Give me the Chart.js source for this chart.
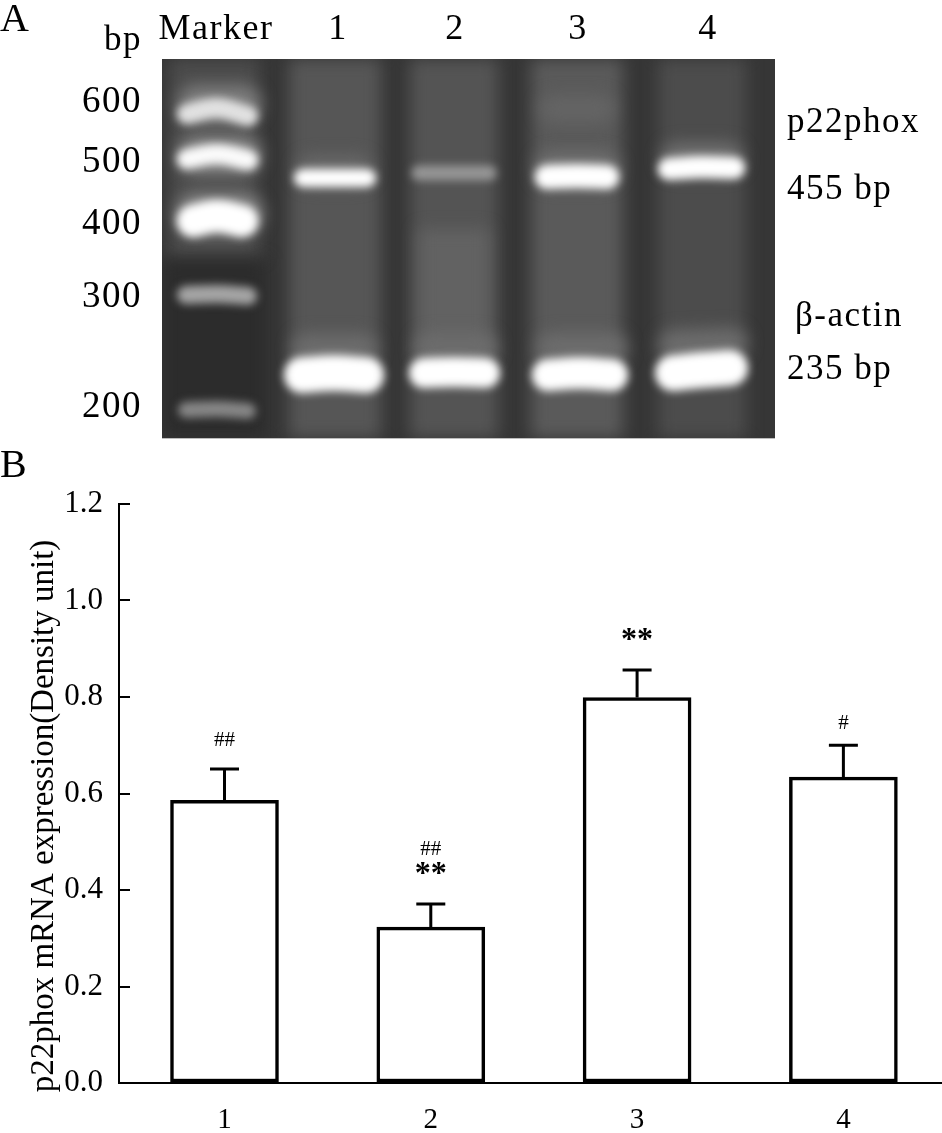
<!DOCTYPE html>
<html>
<head>
<meta charset="utf-8">
<title>p22phox mRNA expression</title>
<script src="https://cdn.jsdelivr.net/npm/chart.js@4"></script>
<style>
  html, body { margin: 0; background: #fff; overflow: hidden; }
  #wrap { position: relative; width: 942px; height: 1133px; overflow: hidden; }
  #gel-box { position: absolute; left: 0; top: 0; width: 942px; height: 450px; }
  #bars-box { position: absolute; left: 0; top: 450px; width: 942px; height: 683px; }
  canvas { display: block; }
</style>
</head>
<body>
<div id="wrap">
  <div id="gel-box"><canvas id="gel" width="942" height="450"></canvas></div>
  <div id="bars-box"><canvas id="bars" width="942" height="683"></canvas></div>
</div>
<script>
// --- Panel B values ---
const groups = ["1", "2", "3", "4"];
const density = [0.586, 0.323, 0.799, 0.634];
const errorTop = [0.651, 0.371, 0.856, 0.700];
const hashMarks = ["##", "##", "", "#"];
const hashLevel = [0.709, 0.485, 0, 0.746];
const starMarks = ["", "**", "**", ""];
const starLevel = [0, 0.432, 0.917, 0];
const yTicks = [0, 0.2, 0.4, 0.6, 0.8, 1.0, 1.2];
const yTitle = "p22phox mRNA expression(Density unit)";

// --- Panel A values, in gel distance units ---
const laneNames = ["Marker", "1", "2", "3", "4"];
const laneLabelX = [54, 176, 293, 416, 546];
const bpLabels = ["600", "500", "400", "300", "200"];
const bpRows = [43, 103, 165, 238, 348];

const stripX = [52, 52, 173, 292, 292, 415, 540];
const stripFrom = [0, 200, 0, 0, 170, 0, 0];
const stripTo = [200, 379, 379, 379, 300, 379, 379];
const stripWide = [90, 105, 92, 88, 70, 92, 88];
const stripGrey = [76, 44, 86, 84, 98, 90, 76];

const haloX = [[145, 200], [268, 320], [390, 450], [512, 570], [392, 438], [150, 195], [390, 440], [515, 565], [35, 80], [35, 80], [35, 80]];
const haloY = [[290, 290], [289, 289], [289, 289], [286, 284], [50, 50], [112, 112], [110, 110], [100, 100], [45, 45], [96, 96], [155, 155]];
const haloWide = [30, 30, 30, 30, 28, 30, 34, 32, 38, 38, 42];
const haloGrey = [108, 108, 108, 108, 100, 105, 112, 112, 125, 135, 135];

const bandX = [
  [25, 55, 86], [25, 55, 86], [31, 55, 80], [24, 55, 86], [24, 55, 86],
  [141, 173, 205], [257, 292, 327], [385, 415, 445], [507, 540, 572],
  [140, 172, 204], [262, 292, 323], [386, 418, 450], [511, 540, 568]
];
const bandY = [
  [55, 49, 57], [100, 95, 101], [162, 157, 162], [236, 235, 237], [351, 350, 352],
  [119, 119, 119], [114, 114, 114], [118, 117, 118], [110, 108, 109],
  [316, 314, 316], [314, 313, 314], [316, 314, 316], [314, 311, 309]
];
const bandWide = [20, 20, 32, 18, 16, 18, 15, 24, 22, 36, 30, 32, 36];
const bandGrey = [225, 250, 255, 165, 135, 255, 150, 255, 255, 255, 255, 255, 255];

const gelNotes = ["p22phox", "455 bp", "β-actin", "235 bp", "bp"];
const gelNoteX = [625, 625, 633, 625, -58];
const gelNoteRow = [64, 131, 258, 311, -18];

const serif = "'Liberation Serif', serif";

function grey(v) { return `rgb(${v},${v},${v})`; }

// Layout is fixed by hand, so drop the room Chart.js keeps for edge labels
function noEdgePadding(s) {
  s.paddingTop = s.paddingBottom = s.paddingLeft = s.paddingRight = 0;
}

// --- Gel datasets ---
function lineSet(xs, ys, wide, shade, blur, cap) {
  return {
    data: xs.map((x, i) => ({ x, y: ys[i] })),
    borderColor: grey(shade),
    borderWidth: wide,
    borderCapStyle: cap,
    tension: 0.4,
    pointRadius: 0,
    clip: 0,
    blur
  };
}

const gelSets = [];
stripX.forEach((x, i) => {
  gelSets.push(lineSet([x, x], [stripFrom[i], stripTo[i]], stripWide[i], stripGrey[i], 8, "butt"));
});
haloX.forEach((xs, i) => {
  gelSets.push(lineSet(xs, haloY[i], haloWide[i], haloGrey[i], 8, "round"));
});
bandX.forEach((xs, i) => {
  gelSets.push(lineSet(xs, bandY[i], bandWide[i], bandGrey[i], 4, "round"));
});
// Chart.js paints the first dataset last
gelSets.reverse();

const gelPlugin = {
  id: "gelLook",
  beforeDraw(chart) {
    chart.ctx.letterSpacing = "1.5px";
  },
  beforeDatasetsDraw(chart) {
    const { ctx, chartArea: a } = chart;
    ctx.fillStyle = "#363636";
    ctx.fillRect(a.left, a.top, a.right - a.left, a.bottom - a.top);
    ctx.fillStyle = "#bdbdbd";
    ctx.fillRect(a.left, a.bottom, a.right - a.left, 1);
  },
  beforeDatasetDraw(chart, args) {
    chart.ctx.filter = `blur(${chart.data.datasets[args.index].blur}px)`;
  },
  afterDatasetDraw(chart) {
    chart.ctx.filter = "none";
  },
  afterDraw(chart) {
    const { ctx, scales } = chart;
    ctx.save();
    ctx.fillStyle = "#000";
    ctx.textBaseline = "middle";
    ctx.font = `35px ${serif}`;
    gelNotes.forEach((t, i) => {
      ctx.fillText(t, scales.x.getPixelForValue(gelNoteX[i]), scales.y.getPixelForValue(gelNoteRow[i]));
    });
    ctx.font = `40px ${serif}`;
    ctx.fillText("A", 0, 20);
    ctx.restore();
  }
};

new Chart(document.getElementById("gel"), {
  type: "line",
  data: { datasets: gelSets },
  plugins: [gelPlugin],
  options: {
    responsive: false,
    animation: false,
    layout: { padding: { top: 0, left: 0, right: 167, bottom: 12 } },
    plugins: { legend: { display: false }, tooltip: { enabled: false } },
    scales: {
      x: {
        type: "linear",
        position: "top",
        min: 0,
        max: 613,
        grid: { display: false, drawTicks: false },
        border: { display: false },
        afterBuildTicks: s => { s.ticks = laneLabelX.map(value => ({ value })); },
        afterFit: s => { s.height = 59; noEdgePadding(s); },
        ticks: {
          autoSkip: false,
          maxRotation: 0,
          padding: 8,
          color: "#000",
          font: { family: serif, size: 36 },
          callback: v => laneNames[laneLabelX.indexOf(v)]
        }
      },
      y: {
        type: "linear",
        reverse: true,
        min: 0,
        max: 379,
        grid: { display: false, drawTicks: false },
        border: { display: false },
        afterBuildTicks: s => { s.ticks = bpRows.map(value => ({ value })); },
        afterFit: s => { s.width = 162; noEdgePadding(s); },
        ticks: {
          autoSkip: false,
          padding: 20,
          color: "#000",
          font: { family: serif, size: 37 },
          callback: v => bpLabels[bpRows.indexOf(v)]
        }
      }
    }
  }
});

// --- Panel B: error bars and marks ---
const barExtras = {
  id: "barExtras",
  afterDatasetsDraw(chart) {
    const { ctx, scales } = chart;
    const { x, y } = scales;
    ctx.save();
    ctx.strokeStyle = "#000";
    ctx.lineWidth = 3;
    groups.forEach((g, i) => {
      const px = x.getPixelForValue(i + 1);
      ctx.beginPath();
      ctx.moveTo(px, y.getPixelForValue(density[i]));
      ctx.lineTo(px, y.getPixelForValue(errorTop[i]));
      ctx.moveTo(px - 14.5, y.getPixelForValue(errorTop[i]));
      ctx.lineTo(px + 14.5, y.getPixelForValue(errorTop[i]));
      ctx.stroke();
    });
    ctx.fillStyle = "#000";
    ctx.textAlign = "center";
    ctx.textBaseline = "middle";
    ctx.font = `21px ${serif}`;
    hashMarks.forEach((t, i) => {
      if (t) ctx.fillText(t, x.getPixelForValue(i + 1), y.getPixelForValue(hashLevel[i]));
    });
    ctx.font = `bold 32px ${serif}`;
    starMarks.forEach((t, i) => {
      if (t) ctx.fillText(t, x.getPixelForValue(i + 1), y.getPixelForValue(starLevel[i]));
    });
    ctx.font = `33px ${serif}`;
    ctx.save();
    ctx.translate(44, 366);
    ctx.rotate(-Math.PI / 2);
    ctx.fillText(yTitle, 0, 0);
    ctx.restore();
    ctx.textAlign = "left";
    ctx.font = `40px ${serif}`;
    ctx.fillText("B", 0, 16);
    ctx.restore();
  }
};

new Chart(document.getElementById("bars"), {
  type: "bar",
  data: {
    datasets: [{
      data: groups.map((g, i) => ({ x: i + 1, y: density[i] })),
      backgroundColor: "#fff",
      borderColor: "#000",
      borderWidth: 3.5,
      borderSkipped: false,
      barThickness: 108
    }]
  },
  plugins: [barExtras],
  options: {
    responsive: false,
    animation: false,
    layout: { padding: { top: 54, right: 0, bottom: 0, left: 0 } },
    plugins: { legend: { display: false }, tooltip: { enabled: false } },
    scales: {
      x: {
        type: "linear",
        offset: false,
        min: 0.4886,
        max: 4.478,
        grid: { display: false, drawTicks: false },
        border: { color: "#000", width: 2 },
        afterBuildTicks: s => { s.ticks = groups.map((g, i) => ({ value: i + 1 })); },
        afterFit: s => { s.height = 50; noEdgePadding(s); },
        ticks: {
          autoSkip: false,
          maxRotation: 0,
          padding: 20,
          color: "#000",
          font: { family: serif, size: 29 },
          callback: v => groups[v - 1]
        }
      },
      y: {
        min: 0,
        max: 1.2,
        border: { color: "#000", width: 2 },
        grid: { drawOnChartArea: false, color: "#000", lineWidth: 2, tickLength: -11 },
        afterBuildTicks: s => { s.ticks = yTicks.map(value => ({ value })); },
        afterFit: s => { s.width = 119; noEdgePadding(s); },
        ticks: {
          padding: 27,
          color: "#000",
          font: { family: serif, size: 31 },
          callback: v => v.toFixed(1)
        }
      }
    }
  }
});
</script>
</body>
</html>
